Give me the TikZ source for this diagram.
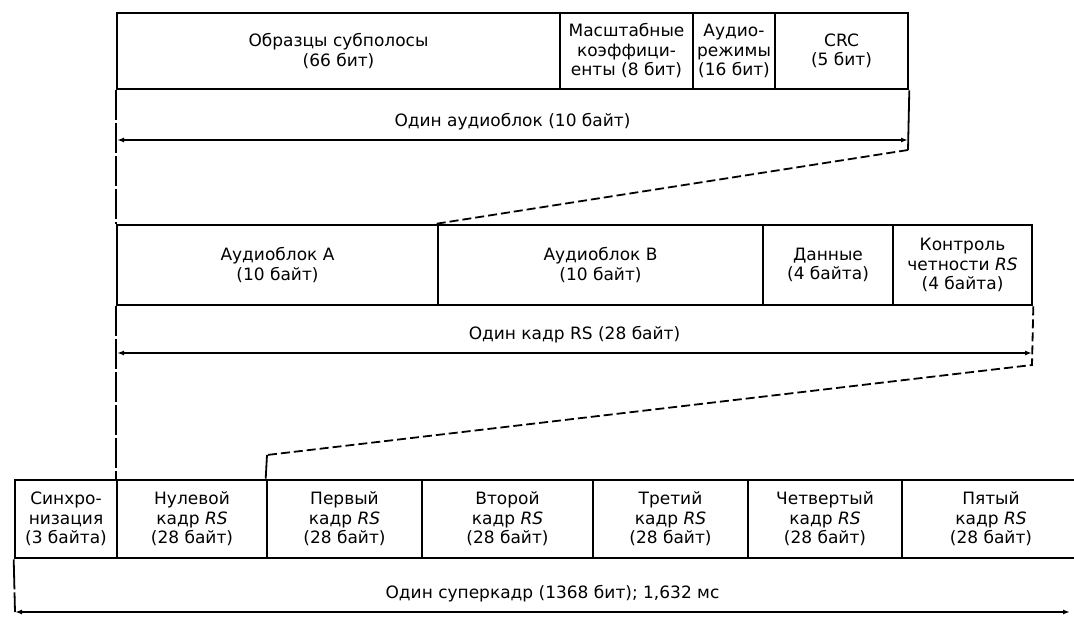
\documentclass[tikz,border=0pt]{standalone}
\usepackage{fontspec}
\setmainfont{DejaVu Sans}
\usetikzlibrary{arrows.meta}
\tikzset{
	pole/.style={draw, line width=2.6pt, inner sep=0pt, align=center, font=\fontsize{17}{19.5}\selectfont},
	opis/.style={font=\fontsize{17}{19.5}\selectfont},
	wymiar/.style={line width=1.8pt, {Latex[length=7pt,width=5pt]}-{Latex[length=7pt,width=5pt]}},
	rzut/.style={line width=1.8pt, dash pattern=on 9pt off 4pt},
	linia/.style={line width=1.8pt, dash pattern=on 30pt off 3pt},
}
\begin{document}
\begin{tikzpicture}[x=1pt,y=-1pt]
	\useasboundingbox (0,0) rectangle (1074,617);
	\clip (0,0) rectangle (1074,617);

	% audioblok
	\foreach \xa/\xb/\txt [count=\i] in {117/560/{Образцы субполосы\\(66 бит)}, 560/693/{Масштабные\\коэффици-\\енты (8 бит)}, 693/775/{Аудио-\\режимы\\(16 бит)}, 775/908/{CRC\\(5 бит)}} {{
	     \node[pole, minimum width=\xb-\xa, minimum height=76] (a\i) at ({(\xa+\xb)/2},51) {\txt};
	}}
	% kadr RS
	\foreach \xa/\xb/\txt [count=\i] in {117/438/{Аудиоблок A\\(10 байт)}, 438/763/{Аудиоблок B\\(10 байт)}, 763/893/{Данные\\(4 байта)}, 893/1032/{Контроль\\четности \textit{RS}\\(4 байта)}} {{
	     \node[pole, minimum width=\xb-\xa, minimum height=80] (r\i) at ({(\xa+\xb)/2},265) {\txt};
	}}
	% superkadr
	\foreach \xa/\xb/\txt [count=\i] in {15/117/{Синхро-\\низация\\(3 байта)}, 117/267/{Нулевой\\кадр \textit{RS}\\(28 байт)}, 267/422/{Первый\\кадр \textit{RS}\\(28 байт)}, 422/593/{Второй\\кадр \textit{RS}\\(28 байт)}, 593/748/{Третий\\кадр \textit{RS}\\(28 байт)}, 748/902/{Четвертый\\кадр \textit{RS}\\(28 байт)}, 902/1080/{Пятый\\кадр \textit{RS}\\(28 байт)}} {{
	     \node[pole, minimum width=\xb-\xa, minimum height=78] (s\i) at ({(\xa+\xb)/2},519) {\txt};
	}}

	\coordinate (d1l) at (117,140);
	\coordinate (d1r) at (908,140);
	\coordinate (k1) at (908,150);
	\coordinate (d2l) at (117,353);
	\coordinate (d2r) at (1032,353);
	\coordinate (k2) at (1032,365);
	\coordinate (k3) at (267,455);
	\coordinate (d3l) at (15,612);
	\coordinate (d3r) at (1070,612);

	\draw[linia] (a1.south west) -- (r1.north west);
	\draw[linia] (r1.south west) -- (s2.north west);
	\draw[line width=1.8pt] (a4.south east) -- (k1);
	\draw[rzut] (k1) -- (r2.north west);
	\draw[rzut] (r4.south east) -- (k2) -- (k3);
	\draw[line width=1.8pt] (k3) -- (s3.north west);
	\draw[linia] (s1.south west) -- (d3l);

	\draw[wymiar] (d1l) -- (d1r) node[opis, midway, above=6pt]{Один аудиоблок (10 байт)};
	\draw[wymiar] (d2l) -- (d2r) node[opis, midway, above=6pt]{Один кадр RS (28 байт)};
	\draw[wymiar] (d3l) -- (d3r) node[opis, midway, above=6pt, xshift=10pt]{Один суперкадр (1368 бит); 1,632 мс};
\end{tikzpicture}
\end{document}
